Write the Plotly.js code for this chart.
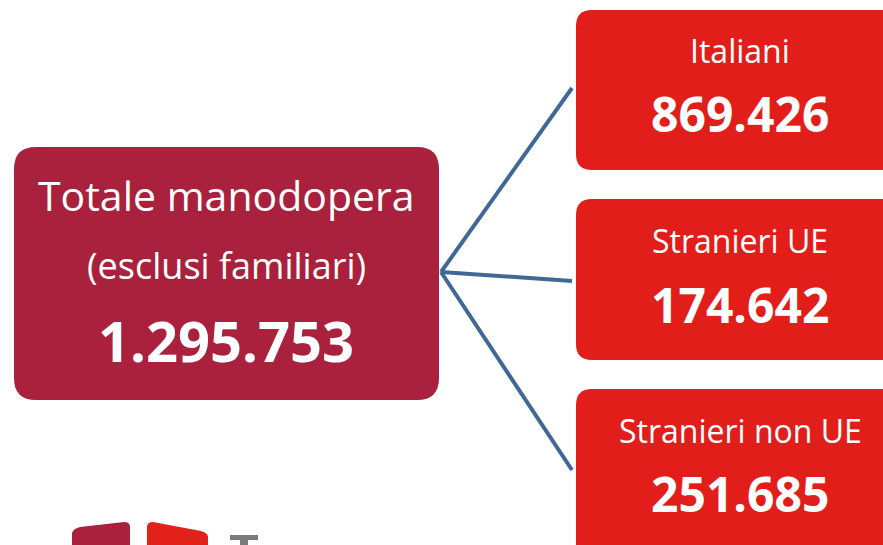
<!DOCTYPE html>
<html>
<head>
<meta charset="utf-8">
<script src="https://cdn.plot.ly/plotly-3.0.1.min.js"></script>
<style>html,body{margin:0;padding:0;background:#fff;}#chart{width:883px;height:545px;}</style>
</head>
<body>
<div id="chart"></div>
<script>
// Data
const totalLabel = ["Totale manodopera", "(esclusi familiari)"];
const totalValue = "1.295.753";
const categories = ["Italiani", "Stranieri UE", "Stranieri non UE"];
const values = ["869.426", "174.642", "251.685"];

function roundRect(x0, y0, x1, y1, r) {
  return `M${x0+r},${y0} L${x1-r},${y0} Q${x1},${y0} ${x1},${y0+r} L${x1},${y1-r} Q${x1},${y1} ${x1-r},${y1} L${x0+r},${y1} Q${x0},${y1} ${x0},${y1-r} L${x0},${y0+r} Q${x0},${y0} ${x0+r},${y0} Z`;
}

const FONT = "Open Sans, Noto Sans, sans-serif";
const shapes = [];
const annotations = [];

// Left box
shapes.push({type:'path', xref:'x', yref:'y', path: roundRect(14,147,439,400,22), fillcolor:'#A9213D', line:{width:0}, layer:'below'});

// Right boxes
const boxes = [[10,170],[199,360],[389,565]];
boxes.forEach(b => shapes.push({type:'path', xref:'x', yref:'y', path: roundRect(576,b[0],900,b[1],16), fillcolor:'#E11E1A', line:{width:0}, layer:'below'}));

// Connectors
const origin = [441, 272];
const ends = [[572,88],[572,281],[572,470]];
ends.forEach(e => shapes.push({type:'line', xref:'x', yref:'y', x0:origin[0], y0:origin[1], x1:e[0], y1:e[1], line:{color:'#3F6896', width:4}}));

// Logo fragments (bottom left)
shapes.push({type:'path', xref:'x', yref:'y', path:'M72,533 Q73,529 80,527 L124,522 Q130,522 130,527 L130,550 L72,550 Z', fillcolor:'#A9213D', line:{width:0}});
shapes.push({type:'path', xref:'x', yref:'y', path:'M147,527 Q147,522 153,522 L201,531 Q208,533 208,537 L208,550 L147,550 Z', fillcolor:'#E3211B', line:{width:0}});
shapes.push({type:'rect', xref:'x', yref:'y', x0:230, y0:535, x1:258, y1:540, fillcolor:'#7a7a7a', line:{width:0}});
shapes.push({type:'rect', xref:'x', yref:'y', x0:240, y0:539, x1:248, y1:550, fillcolor:'#7a7a7a', line:{width:0}});

function ann(x, baseline, text, size, bold) {
  annotations.push({xref:'x', yref:'y', x:x, y: baseline - 0.388*size, text:text, showarrow:false,
    xanchor:'center', yanchor:'middle', font:{family:FONT, size:size, color:'#ffffff', weight: bold ? 700 : 400}});
}

ann(226, 211, totalLabel[0], 41, false);
ann(226, 279, totalLabel[1], 36, false);
ann(226, 362, totalValue, 56, true);

const labelBase = [63, 253, 443];
const valueBase = [132, 323, 512];
categories.forEach((c,i) => {
  ann(740, labelBase[i], c, 32, false);
  ann(740, valueBase[i], values[i], 48, true);
});

const layout = {
  width: 883, height: 545,
  margin: {l:0, r:0, t:0, b:0},
  paper_bgcolor: '#ffffff', plot_bgcolor: '#ffffff',
  xaxis: {range:[0,883], visible:false, fixedrange:true},
  yaxis: {range:[545,0], visible:false, fixedrange:true},
  shapes: shapes, annotations: annotations, showlegend:false
};

Plotly.newPlot('chart', [{x:[], y:[], type:'scatter'}], layout, {displayModeBar:false, staticPlot:true});
</script>
</body>
</html>
